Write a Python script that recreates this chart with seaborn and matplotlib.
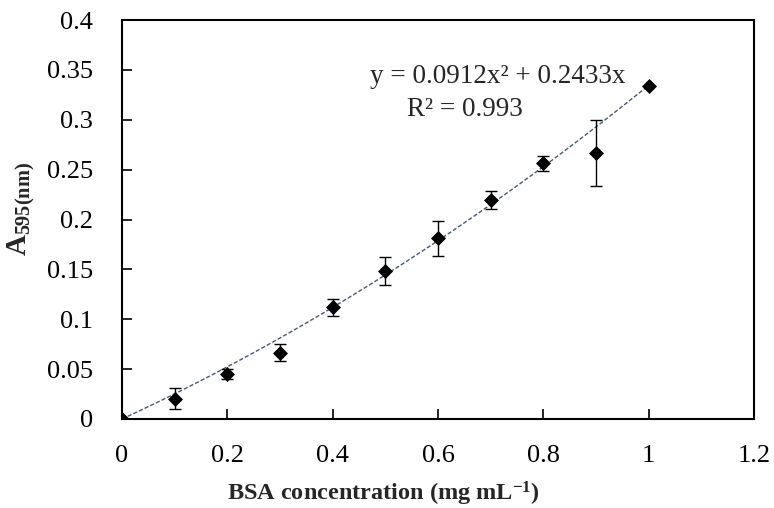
import numpy as np
import pandas as pd
import seaborn as sns
import matplotlib
matplotlib.use("Agg")
from matplotlib import pyplot as plt

# BSA standard curve data
concentration = [0.0, 0.1, 0.2, 0.3, 0.4, 0.5, 0.6, 0.7, 0.8, 0.9, 1.0]
absorbance = [0.0, 0.0205, 0.045, 0.0665, 0.112, 0.148, 0.181, 0.220, 0.2565, 0.267, 0.334]
abs_error = [0.0, 0.0107, 0.0048, 0.0087, 0.0085, 0.014, 0.018, 0.009, 0.0075, 0.033, 0.0]

# trendline coefficients as printed on the chart
coef_a = 0.0912
coef_b = 0.2433
r_squared = 0.993

x_ticks = [0, 0.2, 0.4, 0.6, 0.8, 1, 1.2]
y_ticks = [0, 0.05, 0.1, 0.15, 0.2, 0.25, 0.3, 0.35, 0.4]

sns.set_style("white")
plt.rcParams["font.family"] = ["Liberation Serif", "DejaVu Serif"]
plt.rcParams["mathtext.fontset"] = "custom"
plt.rcParams["mathtext.rm"] = "Liberation Serif"
plt.rcParams["mathtext.bf"] = "Liberation Serif:bold"
plt.rcParams["mathtext.it"] = "Liberation Serif:italic"

df = pd.DataFrame({"conc": concentration, "abs": absorbance, "err": abs_error})

fig = plt.figure(figsize=(7.74, 5.08), dpi=100)
ax = fig.add_axes([0.1576, 0.1752, 0.9742 - 0.1576, 0.9606 - 0.1752])

# trendline (dashed)
xs = np.linspace(0, 1.0, 200)
trend = pd.DataFrame({"conc": xs, "fit": coef_a * xs ** 2 + coef_b * xs})
sns.lineplot(data=trend, x="conc", y="fit", ax=ax, color="#4a5a73",
             linestyle=(0, (3, 1.5)), linewidth=1.0, zorder=2)

# error bars
has_err = df[df["err"] > 0]
ax.errorbar(has_err["conc"], has_err["abs"], yerr=has_err["err"], fmt="none",
            ecolor="black", elinewidth=1.0, capsize=4.5, capthick=1.0, zorder=3)

# data points
sns.scatterplot(data=df, x="conc", y="abs", ax=ax, marker="D", s=50,
                color="black", edgecolor="black", zorder=4)

ax.set_xlim(0, 1.2)
ax.set_ylim(0, 0.4)
ax.set_xticks(x_ticks)
ax.set_yticks(y_ticks)
ax.set_xticklabels([f"{t:g}" for t in x_ticks])
ax.set_yticklabels([f"{t:g}" for t in y_ticks])
ax.tick_params(direction="in", length=7, width=1.2, labelsize=19,
               colors="black", bottom=True, left=True)
ax.tick_params(axis="x", pad=19)
ax.tick_params(axis="y", pad=21)
for side in ax.spines.values():
    side.set_color("black")
    side.set_linewidth(1.5)

ax.set_xlabel(r"BSA concentration (mg mL$^{\mathbf{-1}}$)", fontsize=17.5,
              fontweight="bold")
ax.xaxis.set_label_coords(0.413, -0.188)
ax.xaxis.label.set_va("center")
ax.set_ylabel(r"$\mathbf{A_{595(nm)}}$", fontsize=21)
ax.yaxis.set_label_coords(-0.16, 0.526)
ax.yaxis.label.set_va("center")

ax.text(0.714, 0.343, f"y = {coef_a}x\u00b2 + {coef_b}x", fontsize=19.5,
        ha="center", va="center")
ax.text(0.651, 0.310, f"R\u00b2 = {r_squared}", fontsize=19.5,
        ha="center", va="center")

fig.savefig("out.png", dpi=100, facecolor="white")
plt.close(fig)
